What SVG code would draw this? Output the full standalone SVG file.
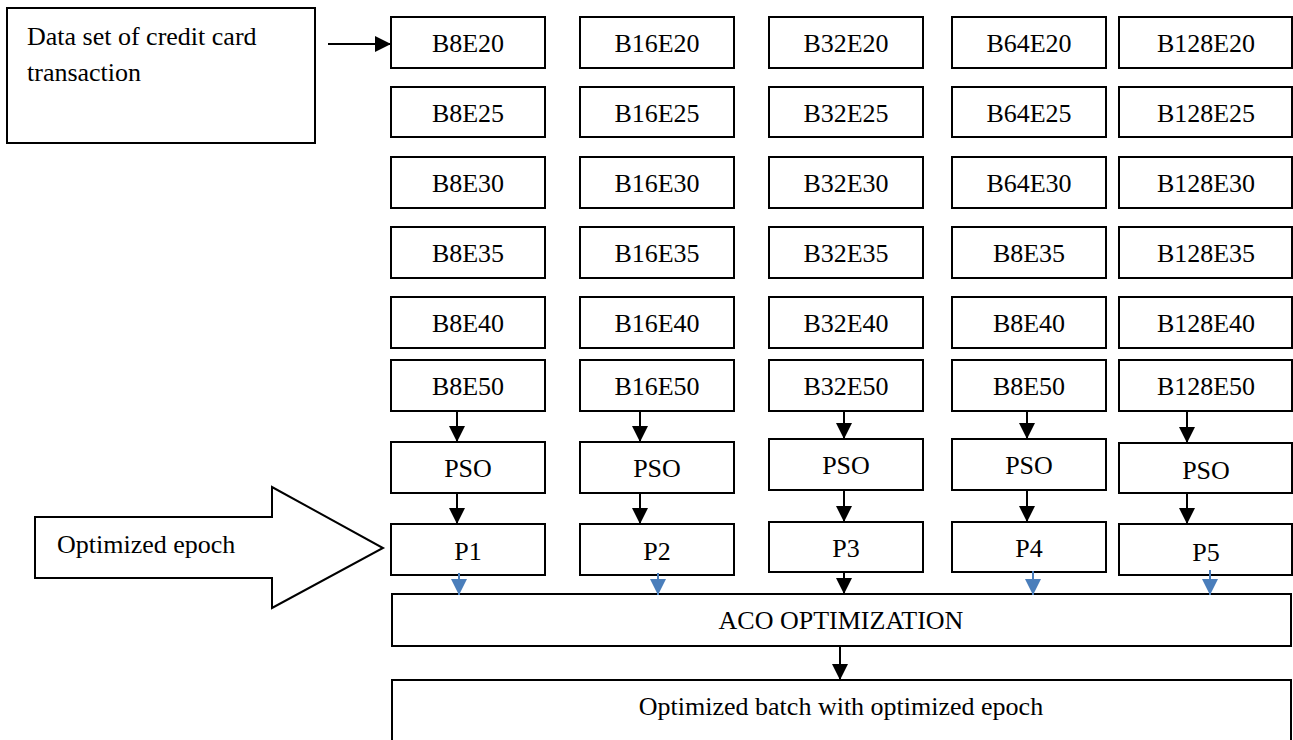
<svg xmlns="http://www.w3.org/2000/svg" width="1293" height="740" viewBox="0 0 1293 740">
<defs>
<style>
.box{fill:#fff;stroke:#000;stroke-width:2}
.t{font-family:"Liberation Serif","Times New Roman",serif;font-size:26px;fill:#000}
.c{text-anchor:middle}
.k{stroke:#000;stroke-width:2;fill:none}
.b{stroke:#4a7ebb;stroke-width:2;fill:none}
</style>
<marker id="ah" markerUnits="userSpaceOnUse" markerWidth="18" markerHeight="18" refX="16" refY="8" orient="auto"><path d="M0,0 L16,8 L0,16 Z" fill="#000"/></marker>
<marker id="ab" markerUnits="userSpaceOnUse" markerWidth="18" markerHeight="18" refX="16" refY="8" orient="auto"><path d="M0,0 L16,8 L0,16 Z" fill="#4a7ebb"/></marker>
</defs>
<rect width="1293" height="740" fill="#fff"/>

<g id="dataset">
<rect class="box" x="7" y="8" width="308" height="135"/>
<text class="t" x="27" y="45">Data set of credit card</text>
<text class="t" x="27" y="81">transaction</text>
</g>

<g id="optimized-epoch">
<polygon class="box" points="35,517 272,517 272,487 383,548 272,608 272,578 35,578"/>
<text class="t" x="57" y="553">Optimized epoch</text>
</g>

<g id="grid">
<g id="c1">
<g id="B8E20"><rect class="box" x="391" y="17" width="154" height="51"/><text class="t c" x="468" y="52">B8E20</text></g>
<g id="B8E25"><rect class="box" x="391" y="87" width="154" height="50"/><text class="t c" x="468" y="122">B8E25</text></g>
<g id="B8E30"><rect class="box" x="391" y="157" width="154" height="51"/><text class="t c" x="468" y="192">B8E30</text></g>
<g id="B8E35"><rect class="box" x="391" y="227" width="154" height="51"/><text class="t c" x="468" y="262">B8E35</text></g>
<g id="B8E40"><rect class="box" x="391" y="297" width="154" height="51"/><text class="t c" x="468" y="332">B8E40</text></g>
<g id="B8E50"><rect class="box" x="391" y="360" width="154" height="51"/><text class="t c" x="468" y="395">B8E50</text></g>
<g id="PSO1"><rect class="box" x="391" y="442" width="154" height="51"/><text class="t c" x="468" y="477">PSO</text></g>
<g id="P1"><rect class="box" x="391" y="524" width="154" height="51"/><text class="t c" x="468" y="560">P1</text></g>
</g>
<g id="c2">
<g id="B16E20"><rect class="box" x="580" y="17" width="154" height="51"/><text class="t c" x="657" y="52">B16E20</text></g>
<g id="B16E25"><rect class="box" x="580" y="87" width="154" height="50"/><text class="t c" x="657" y="122">B16E25</text></g>
<g id="B16E30"><rect class="box" x="580" y="157" width="154" height="51"/><text class="t c" x="657" y="192">B16E30</text></g>
<g id="B16E35"><rect class="box" x="580" y="227" width="154" height="51"/><text class="t c" x="657" y="262">B16E35</text></g>
<g id="B16E40"><rect class="box" x="580" y="297" width="154" height="51"/><text class="t c" x="657" y="332">B16E40</text></g>
<g id="B16E50"><rect class="box" x="580" y="360" width="154" height="51"/><text class="t c" x="657" y="395">B16E50</text></g>
<g id="PSO2"><rect class="box" x="580" y="442" width="154" height="51"/><text class="t c" x="657" y="477">PSO</text></g>
<g id="P2"><rect class="box" x="580" y="524" width="154" height="51"/><text class="t c" x="657" y="560">P2</text></g>
</g>
<g id="c3">
<g id="B32E20"><rect class="box" x="769" y="17" width="154" height="51"/><text class="t c" x="846" y="52">B32E20</text></g>
<g id="B32E25"><rect class="box" x="769" y="87" width="154" height="50"/><text class="t c" x="846" y="122">B32E25</text></g>
<g id="B32E30"><rect class="box" x="769" y="157" width="154" height="51"/><text class="t c" x="846" y="192">B32E30</text></g>
<g id="B32E35"><rect class="box" x="769" y="227" width="154" height="51"/><text class="t c" x="846" y="262">B32E35</text></g>
<g id="B32E40"><rect class="box" x="769" y="297" width="154" height="51"/><text class="t c" x="846" y="332">B32E40</text></g>
<g id="B32E50"><rect class="box" x="769" y="360" width="154" height="51"/><text class="t c" x="846" y="395">B32E50</text></g>
<g id="PSO3"><rect class="box" x="769" y="439" width="154" height="51"/><text class="t c" x="846" y="474">PSO</text></g>
<g id="P3"><rect class="box" x="769" y="522" width="154" height="50"/><text class="t c" x="846" y="557">P3</text></g>
</g>
<g id="c4">
<g id="B64E20"><rect class="box" x="952" y="17" width="154" height="51"/><text class="t c" x="1029" y="52">B64E20</text></g>
<g id="B64E25"><rect class="box" x="952" y="87" width="154" height="50"/><text class="t c" x="1029" y="122">B64E25</text></g>
<g id="B64E30"><rect class="box" x="952" y="157" width="154" height="51"/><text class="t c" x="1029" y="192">B64E30</text></g>
<g id="B8E35b"><rect class="box" x="952" y="227" width="154" height="51"/><text class="t c" x="1029" y="262">B8E35</text></g>
<g id="B8E40b"><rect class="box" x="952" y="297" width="154" height="51"/><text class="t c" x="1029" y="332">B8E40</text></g>
<g id="B8E50b"><rect class="box" x="952" y="360" width="154" height="51"/><text class="t c" x="1029" y="395">B8E50</text></g>
<g id="PSO4"><rect class="box" x="952" y="439" width="154" height="51"/><text class="t c" x="1029" y="474">PSO</text></g>
<g id="P4"><rect class="box" x="952" y="522" width="154" height="50"/><text class="t c" x="1029" y="557">P4</text></g>
</g>
<g id="c5">
<g id="B128E20"><rect class="box" x="1119" y="17" width="173" height="51"/><text class="t c" x="1206" y="52">B128E20</text></g>
<g id="B128E25"><rect class="box" x="1119" y="87" width="173" height="50"/><text class="t c" x="1206" y="122">B128E25</text></g>
<g id="B128E30"><rect class="box" x="1119" y="157" width="173" height="51"/><text class="t c" x="1206" y="192">B128E30</text></g>
<g id="B128E35"><rect class="box" x="1119" y="227" width="173" height="51"/><text class="t c" x="1206" y="262">B128E35</text></g>
<g id="B128E40"><rect class="box" x="1119" y="297" width="173" height="51"/><text class="t c" x="1206" y="332">B128E40</text></g>
<g id="B128E50"><rect class="box" x="1119" y="360" width="173" height="51"/><text class="t c" x="1206" y="395">B128E50</text></g>
<g id="PSO5"><rect class="box" x="1119" y="443" width="173" height="50"/><text class="t c" x="1206" y="479">PSO</text></g>
<g id="P5"><rect class="box" x="1119" y="524" width="173" height="51"/><text class="t c" x="1206" y="561">P5</text></g>
</g>
</g>

<g id="aco">
<rect class="box" x="392" y="594" width="899" height="52"/>
<text class="t c" x="841" y="629">ACO OPTIMIZATION</text>
</g>
<g id="final">
<rect class="box" x="392" y="680" width="899" height="70"/>
<text class="t c" x="841" y="715">Optimized batch with optimized epoch</text>
</g>

<g id="connectors">
<line class="k" x1="328" y1="44" x2="391" y2="44" marker-end="url(#ah)"/>
<line class="k" x1="457" y1="411" x2="457" y2="442" marker-end="url(#ah)"/>
<line class="k" x1="640" y1="411" x2="640" y2="442" marker-end="url(#ah)"/>
<line class="k" x1="844" y1="411" x2="844" y2="439" marker-end="url(#ah)"/>
<line class="k" x1="1027" y1="411" x2="1027" y2="439" marker-end="url(#ah)"/>
<line class="k" x1="1187" y1="412" x2="1187" y2="443" marker-end="url(#ah)"/>
<line class="k" x1="457" y1="493" x2="457" y2="524" marker-end="url(#ah)"/>
<line class="k" x1="640" y1="493" x2="640" y2="524" marker-end="url(#ah)"/>
<line class="k" x1="844" y1="490" x2="844" y2="522" marker-end="url(#ah)"/>
<line class="k" x1="1027" y1="490" x2="1027" y2="522" marker-end="url(#ah)"/>
<line class="k" x1="1187" y1="493" x2="1187" y2="524" marker-end="url(#ah)"/>
<line class="b" x1="459" y1="573" x2="459" y2="595" marker-end="url(#ab)"/>
<line class="b" x1="658" y1="573" x2="658" y2="595" marker-end="url(#ab)"/>
<line class="k" x1="844" y1="572" x2="844" y2="594" marker-end="url(#ah)"/>
<line class="b" x1="1033" y1="571" x2="1033" y2="595" marker-end="url(#ab)"/>
<line class="b" x1="1210" y1="570" x2="1210" y2="595" marker-end="url(#ab)"/>
<line class="k" x1="840" y1="646" x2="840" y2="680" marker-end="url(#ah)"/>
</g>
</svg>
